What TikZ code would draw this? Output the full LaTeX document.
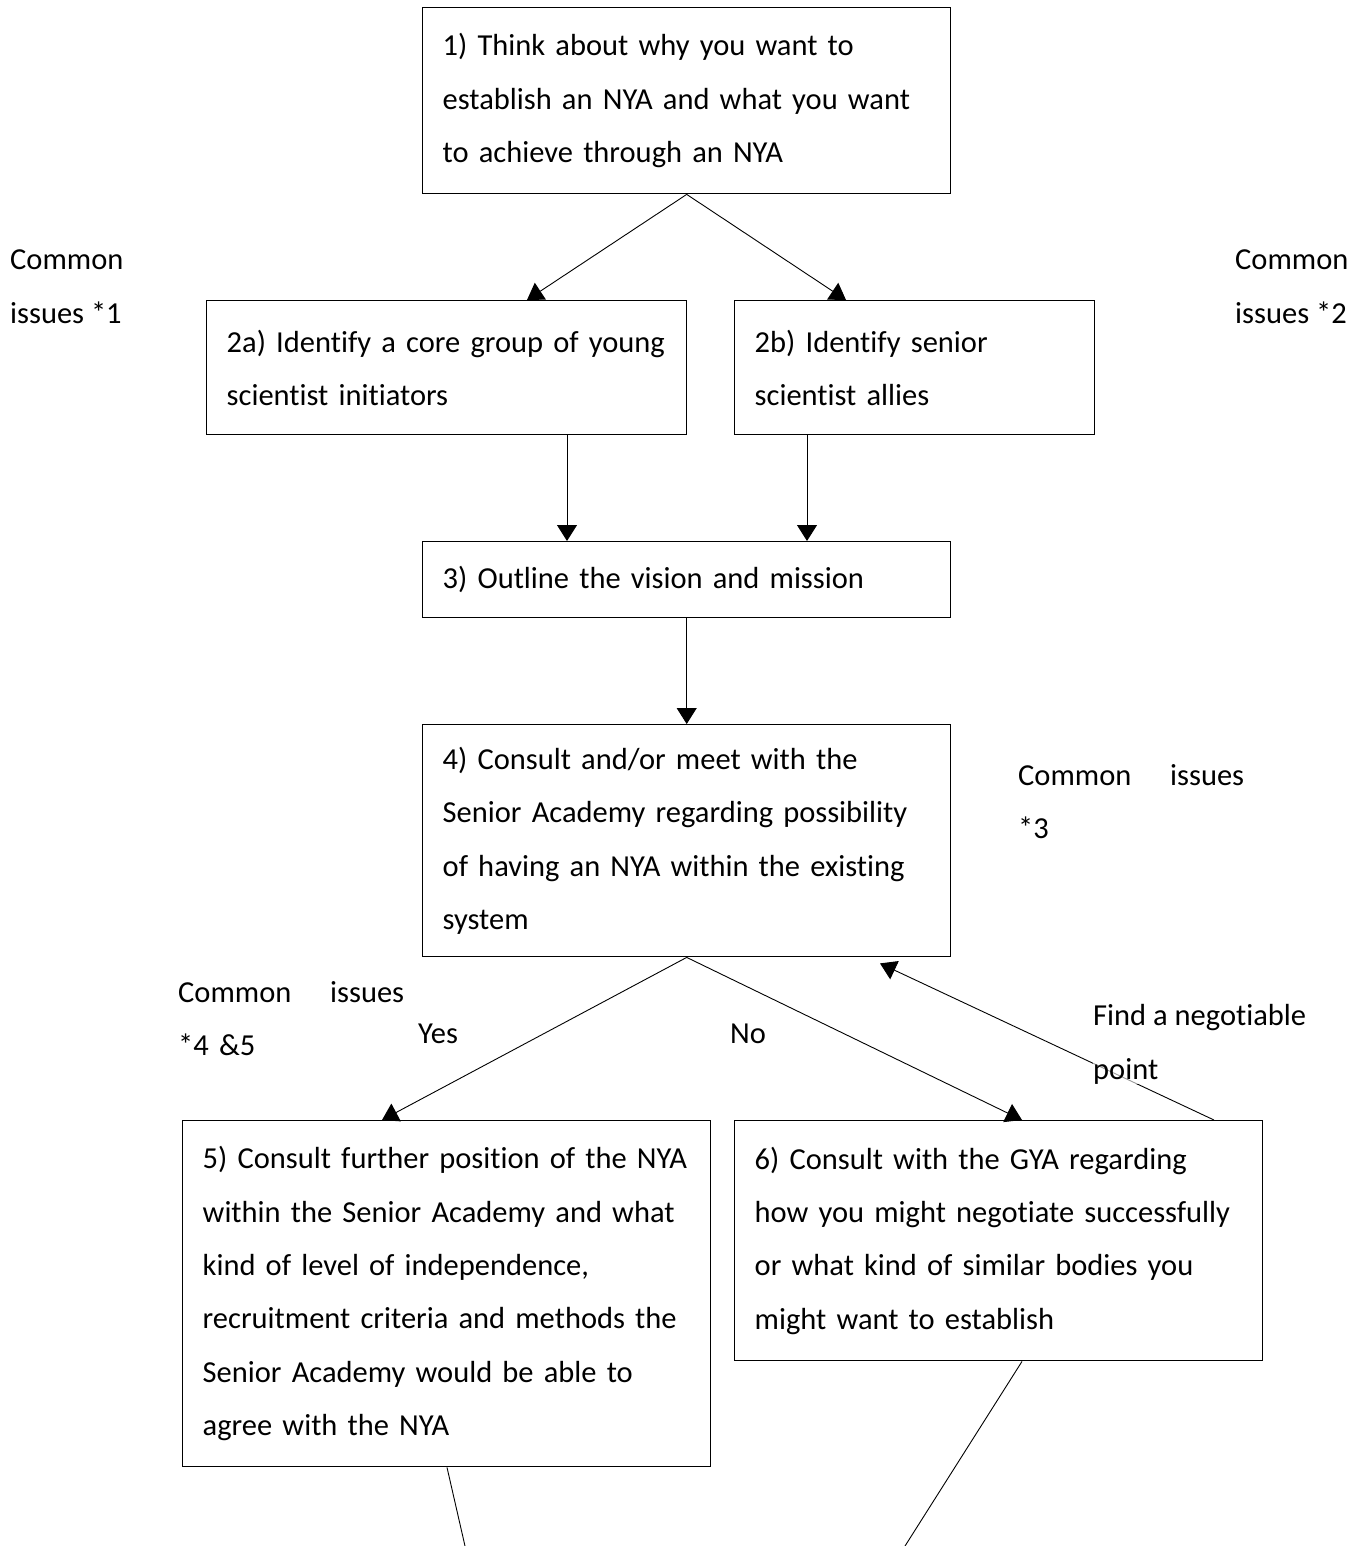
\documentclass[tikz,border=0pt]{standalone}
\usepackage{fontspec}
\setmainfont{Carlito}[Ligatures=NoCommon]
\usetikzlibrary{arrows.meta,calc}
\begin{document}
\begin{tikzpicture}[x=1pt,y=-1pt,
  box/.style={draw,line width=1.4pt,anchor=north west,align=left,inner xsep=20pt,inner ysep=0pt,
     font=\fontsize{30.5}{53.3}\selectfont},
  lbl/.style={anchor=base west,inner sep=0pt,align=left,font=\fontsize{30.5}{53.3}\selectfont},
  conn/.style={line width=0.9pt,-{Triangle[width=20pt,length=16pt]}},
  plain/.style={line width=0.9pt}]
\useasboundingbox (0,0) rectangle (1362,1546);
\node[box,minimum width=528pt,minimum height=186pt,text width=488pt] (b1) at (422,7)
  {1) Think about why you want to\\establish an NYA and what you want\\to achieve through an NYA};
\node[box,minimum width=480pt,minimum height=134pt,text width=440pt] (b2a) at (206,300)
  {2a) Identify a core group of young\\scientist initiators};
\node[box,minimum width=360pt,minimum height=134pt,text width=320pt] (b2b) at (734,300)
  {2b) Identify senior\\scientist allies};
\node[box,minimum width=528pt,minimum height=76pt,text width=488pt] (b3) at (422,541)
  {3) Outline the vision and mission};
\node[box,minimum width=528pt,minimum height=232pt,text width=488pt] (b4) at (422,724)
  {4) Consult and/or meet with the\\Senior Academy regarding possibility\\of having an NYA within the existing\\system};
\node[box,minimum width=528pt,minimum height=346pt,text width=488pt] (b5) at (182,1120)
  {5) Consult further position of the NYA\\within the Senior Academy and what\\kind of level of independence,\\recruitment criteria and methods the\\Senior Academy would be able to\\agree with the NYA};
\node[box,minimum width=528pt,minimum height=240pt,text width=488pt] (b6) at (734,1120)
  {6) Consult with the GYA regarding\\how you might negotiate successfully\\or what kind of similar bodies you\\might want to establish};

\node[lbl] (c1) at (10,323) {Common\\issues *1};
\node[lbl] (c2) at (1235,323) {Common\\issues *2};
\node[lbl,text width=226pt] (c3) at (1018,785) {Common\hfill issues\\{*}3};
\node[lbl,text width=226pt] (c4) at (178,1002) {Common\hfill issues\\{*}4 \&5};
\node[lbl] (yes) at (418,1043) {Yes};
\node[lbl] (no) at (730,1043) {No};

\coordinate (fb) at ($(b4.south west)+(458,6)$);
\coordinate (e5) at (465,1546);
\coordinate (e6) at (905,1546);

\draw[conn] (b1.south) -- ($(b2a.north west)+(321,0)$);
\draw[conn] (b1.south) -- ($(b2b.north west)+(112,0)$);
\draw[conn] ($(b2a.south west)+(361,0)$) -- ($(b3.north west)+(145,0)$);
\draw[conn] ($(b2b.south west)+(73,0)$) -- ($(b3.north west)+(385,0)$);
\draw[conn] (b3.south) -- (b4.north);
\draw[conn] (b4.south) -- ($(b5.north west)+(200,0)$);
\draw[conn] (b4.south) -- ($(b6.north west)+(288,0)$);
\draw[conn] ($(b6.north west)+(480,0)$) -- (fb);
\draw[plain] ($(b5.south west)+(265,0)$) -- (e5);
\draw[plain] ($(b6.south west)+(288,0)$) -- (e6);

\node[lbl,fill=white,fill opacity=0.6,text opacity=1] (neg) at (1093,1079) {Find a negotiable\\point};
\end{tikzpicture}
\end{document}
